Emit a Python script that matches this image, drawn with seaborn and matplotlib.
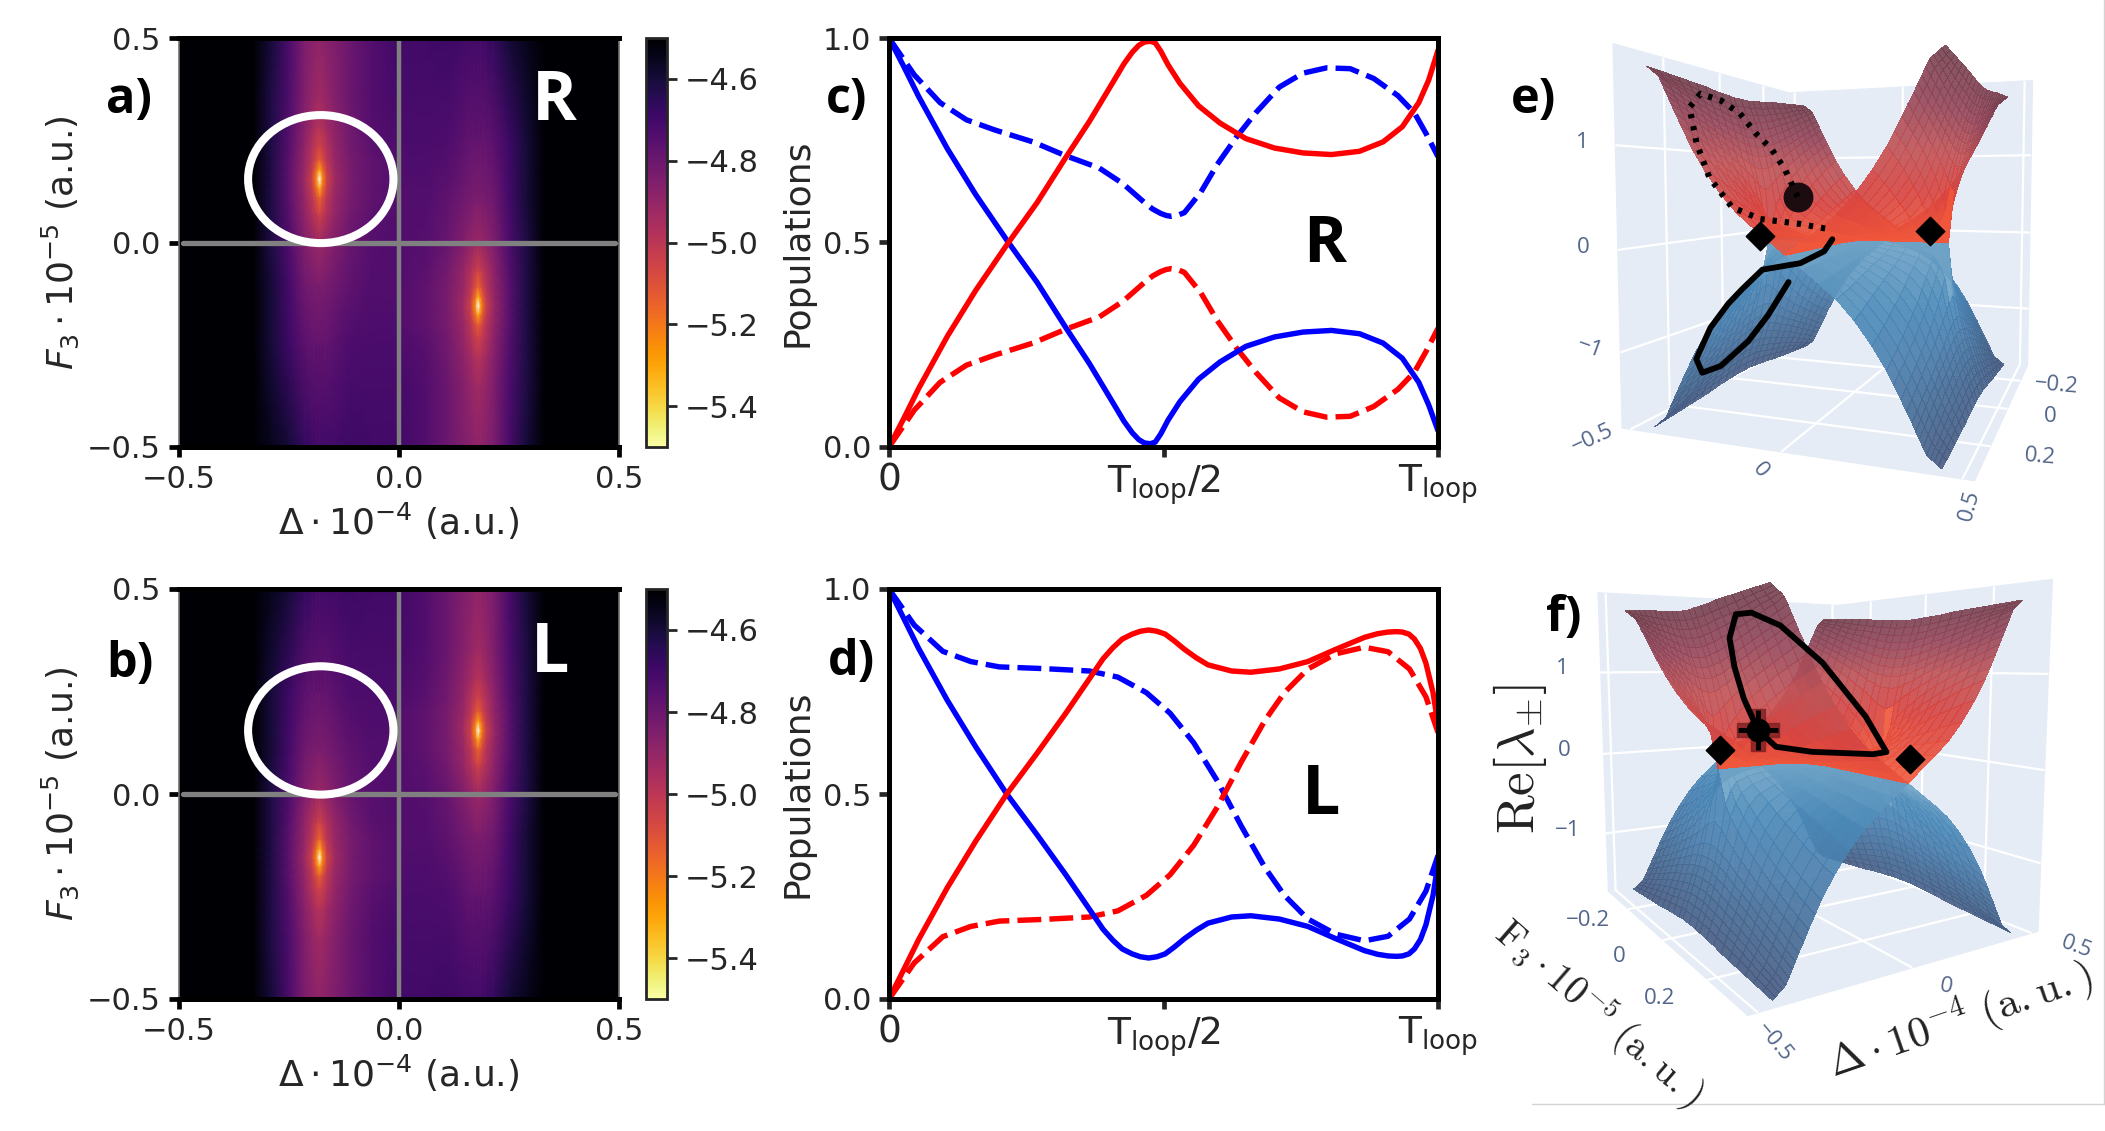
import numpy as np
import matplotlib
matplotlib.use("Agg")
import matplotlib.pyplot as plt
import seaborn as sns
from matplotlib.colors import LinearSegmentedColormap, Normalize
from matplotlib.lines import Line2D
from matplotlib.patches import Ellipse

# ==================================================
# DATA - HEATMAP (left half of panel a, log10 values)
# ==================================================

heat_x = [-0.5, -0.36, -0.33, -0.29, -0.25, -0.215, -0.197, -0.187, -0.18, -0.173, -0.163, -0.145, -0.11, -0.06, 0.0]
heat_y = [0.5, 0.35, 0.28, 0.23, 0.2, 0.175, 0.155, 0.135, 0.11, 0.07, 0.0, -0.1, -0.25, -0.5]
heat_z = [
    [-4.2, -4.42, -4.5, -4.6, -4.72, -4.84, -4.87, -4.88, -4.88, -4.88, -4.87, -4.85, -4.8, -4.74, -4.7],
    [-4.2, -4.42, -4.5, -4.62, -4.73, -4.85, -4.9, -4.92, -4.93, -4.92, -4.9, -4.86, -4.8, -4.74, -4.71],
    [-4.2, -4.42, -4.5, -4.62, -4.74, -4.87, -4.93, -4.97, -4.98, -4.97, -4.93, -4.88, -4.81, -4.75, -4.72],
    [-4.2, -4.42, -4.5, -4.62, -4.75, -4.89, -4.98, -5.03, -5.06, -5.03, -4.98, -4.9, -4.82, -4.76, -4.73],
    [-4.2, -4.42, -4.5, -4.62, -4.76, -4.9, -5.0, -5.08, -5.14, -5.08, -5.0, -4.91, -4.83, -4.77, -4.74],
    [-4.2, -4.42, -4.5, -4.62, -4.76, -4.91, -5.03, -5.18, -5.32, -5.18, -5.03, -4.92, -4.83, -4.77, -4.74],
    [-4.2, -4.42, -4.5, -4.62, -4.76, -4.92, -5.05, -5.25, -5.7, -5.25, -5.05, -4.93, -4.83, -4.77, -4.74],
    [-4.2, -4.42, -4.5, -4.62, -4.76, -4.91, -5.03, -5.18, -5.34, -5.18, -5.03, -4.92, -4.83, -4.77, -4.74],
    [-4.2, -4.42, -4.5, -4.62, -4.76, -4.9, -5.0, -5.09, -5.16, -5.09, -5.0, -4.91, -4.83, -4.77, -4.74],
    [-4.2, -4.42, -4.5, -4.62, -4.75, -4.89, -4.97, -5.02, -5.06, -5.02, -4.97, -4.9, -4.82, -4.76, -4.74],
    [-4.2, -4.42, -4.5, -4.62, -4.73, -4.85, -4.89, -4.91, -4.92, -4.91, -4.89, -4.85, -4.79, -4.75, -4.74],
    [-4.2, -4.42, -4.5, -4.6, -4.71, -4.81, -4.83, -4.84, -4.84, -4.84, -4.83, -4.81, -4.77, -4.74, -4.74],
    [-4.2, -4.42, -4.5, -4.6, -4.69, -4.76, -4.78, -4.78, -4.78, -4.78, -4.78, -4.76, -4.73, -4.72, -4.72],
    [-4.2, -4.4, -4.48, -4.55, -4.6, -4.67, -4.69, -4.7, -4.7, -4.7, -4.7, -4.7, -4.69, -4.7, -4.7],
]
cbar_ticks = [-4.6, -4.8, -5.0, -5.2, -5.4]
heat_ticks = [-0.5, 0.0, 0.5]

# ==================================================
# DATA - POPULATIONS
# ==================================================

c_t_solid = [0, .027, .054, .106, .158, .216, .27, .322, .365, .408, .428, .443, .455, .465, .476, .485, .495, .508, .53, .564, .603, .65, .702, .754, .806, .857, .90, .935, .965, .983, 1.0]
c_red_solid = [0, .07, .143, .27, .383, .497, .598, .708, .796, .892, .937, .965, .982, .99, .992, .988, .968, .935, .889, .834, .792, .754, .731, .719, .715, .723, .746, .783, .842, .897, .97]
c_blue_solid = [1, .93, .857, .73, .617, .503, .402, .292, .204, .108, .063, .035, .018, .01, .008, .012, .032, .065, .111, .166, .208, .246, .269, .281, .285, .277, .254, .217, .158, .103, .04]

c_t_dash = [0, .046, .093, .141, .193, .262, .322, .383, .426, .465, .48, .495, .505, .514, .525, .538, .568, .598, .633, .668, .711, .754, .797, .84, .883, .927, .957, .978, 1.0]
c_blue_dash = [1, .91, .842, .80, .775, .746, .712, .682, .644, .598, .582, .571, .566, .564, .566, .573, .623, .691, .758, .817, .88, .914, .927, .925, .901, .859, .817, .767, .71]
c_red_dash = [0, .09, .158, .20, .225, .254, .288, .318, .356, .402, .418, .429, .434, .436, .434, .427, .377, .309, .242, .183, .12, .086, .073, .075, .099, .141, .183, .233, .29]

d_t_solid = [0, .027, .054, .106, .158, .214, .27, .322, .365, .39, .408, .425, .443, .458, .473, .488, .503, .52, .538, .56, .581, .624, .659, .711, .763, .814, .866, .89, .909, .925, .935, .947, .957, .968, .978, .991, 1.0]
d_red_solid = [0, .072, .145, .271, .385, .499, .60, .697, .781, .83, .857, .878, .89, .897, .90, .897, .89, .873, .853, .832, .815, .80, .797, .805, .823, .853, .882, .891, .895, .896, .895, .89, .878, .855, .819, .747, .67]
d_blue_solid = [1, .928, .855, .729, .615, .501, .40, .303, .219, .17, .143, .122, .11, .103, .10, .103, .11, .127, .147, .168, .185, .20, .203, .195, .177, .147, .118, .109, .105, .104, .105, .11, .122, .145, .181, .253, .33]

d_t_dash = [0, .046, .098, .149, .201, .279, .365, .417, .469, .512, .555, .598, .642, .685, .72, .763, .814, .866, .909, .948, .978, 1.0]
d_blue_dash = [1, .912, .848, .823, .81, .806, .80, .785, .747, .697, .625, .532, .421, .32, .253, .195, .158, .142, .153, .195, .263, .35]
d_red_dash = [0, .088, .152, .177, .19, .194, .20, .215, .253, .303, .375, .468, .579, .68, .747, .805, .842, .858, .847, .805, .737, .65]

pop_ticks = [0.0, 0.5, 1.0]
time_ticks = [0.0, 0.5, 1.0]
time_labels = ["0", "T$_{\\mathrm{loop}}$/2", "T$_{\\mathrm{loop}}$"]

# ==================================================
# DATA - 3D SURFACE (one quadrant of the upper sheet)
# ==================================================

surf_x = [0, .05, .1, .15, .2, .25, .29, .31, .33, .345, .36, .37, .38, .39, .4, .41, .42, .43, .44]
surf_y = [0, .03, .05, .08, .11, .14, .17, .2, .23, .26, .29, .32]
surf_z = [
    [0, 0, 0, 0, 0, 0, 0, 0, 0, .56, .81, .95, 1.06, 1.17, 1.27, 1.36, 1.45, 1.54, 1.63],
    [0, .01, .02, .04, .05, .08, .13, .21, .36, .62, .82, .96, 1.07, 1.17, 1.27, 1.36, 1.45, 1.54, 1.63],
    [0, .02, .04, .07, .10, .15, .23, .33, .47, .69, .86, .98, 1.09, 1.19, 1.29, 1.38, 1.46, 1.55, 1.64],
    [0, .03, .06, .10, .15, .22, .33, .45, .59, .77, .91, 1.02, 1.12, 1.22, 1.31, 1.40, 1.48, 1.56, 1.65],
    [0, .04, .08, .14, .20, .29, .43, .55, .70, .85, .98, 1.08, 1.17, 1.26, 1.35, 1.43, 1.51, 1.58, 1.66],
    [0, .05, .11, .17, .25, .37, .53, .65, .79, .92, 1.04, 1.13, 1.21, 1.30, 1.38, 1.46, 1.53, 1.60, 1.68],
    [0, .06, .13, .21, .30, .44, .61, .73, .87, .99, 1.10, 1.18, 1.26, 1.34, 1.42, 1.49, 1.55, 1.62, 1.69],
    [0, .07, .15, .24, .35, .51, .69, .81, .94, 1.05, 1.16, 1.24, 1.31, 1.39, 1.46, 1.52, 1.58, 1.64, 1.70],
    [0, .08, .17, .28, .40, .58, .76, .88, 1.01, 1.11, 1.22, 1.29, 1.36, 1.44, 1.50, 1.56, 1.61, 1.66, 1.71],
    [0, .10, .20, .31, .45, .64, .83, .95, 1.07, 1.17, 1.27, 1.34, 1.41, 1.48, 1.55, 1.60, 1.64, 1.68, 1.72],
    [0, .11, .22, .34, .50, .70, .89, 1.01, 1.13, 1.23, 1.33, 1.40, 1.46, 1.53, 1.59, 1.63, 1.66, 1.70, 1.73],
    [0, .12, .24, .37, .54, .75, .95, 1.07, 1.19, 1.29, 1.38, 1.45, 1.51, 1.58, 1.64, 1.67, 1.69, 1.72, 1.74],
]
e_ep_x = [-0.392, 0.132]
e_ep_y = [-0.024, -0.32]
f_ep_x = [-0.108, 0.34]
f_ep_y = [-0.268, 0.088]
ep_z = [0.0, 0.0]

e_top_x = [-.30, -.348, -.376, -.396, -.42, -.428, -.424, -.38, -.312, -.236, -.164, -.156, -.252, -.136]
e_top_y = [-.104, -.096, -.064, -.016, .028, .096, .172, .248, .288, .32, .32, .232, -.052, -.072]
e_top_z = [.47, .82, 1.06, 1.23, 1.45, 1.56, 1.58, 1.39, 1.02, .69, .42, .29, .15, .08]

e_bot_x = [-.084, .02, -.284, -.292, -.136, -.18, -.24, -.316, -.376, -.40, -.396, -.372, -.328]
e_bot_y = [0, .188, -.096, .076, .32, .32, .32, .296, .224, .136, .028, -.036, -.088]
e_bot_z = [0, -.03, -.36, -.33, -.33, -.47, -.71, -1.06, -1.32, -1.38, -1.23, -.98, -.60]

f_loop_x = [.092, -.336, -.368, -.396, -.416, -.408, -.376, -.288, -.15, -.078, -.124, -.168, -.232, .092]
f_loop_y = [-.304, .116, .12, .136, .184, .228, .284, .32, .32, .32, .32, .18, .12, -.304]
f_loop_z = [.21, .77, 1.07, 1.34, 1.54, 1.54, 1.42, 1.11, .64, .31, .30, .25, .28, .21]

# ==================================================
# STYLE
# ==================================================

W, H = 2105, 1131
sns.set_style("ticks")
plt.rcParams["font.family"] = ["DejaVu Sans"]
plt.rcParams["mathtext.fontset"] = "dejavusans"
plt.rcParams["grid.color"] = "white"
plt.rcParams["grid.linewidth"] = 1.6
FS = 22
LABEL_FS = 26

fig = plt.figure(figsize=(W / 100, H / 100), dpi=100)
fig.patch.set_facecolor("white")


def axes_px(x0, x1, y0, y1, **kw):
    return fig.add_axes([x0 / W, 1 - y1 / H, (x1 - x0) / W, (y1 - y0) / H], **kw)


def text_px(x, y, s, **kw):
    kw.setdefault("ha", "center")
    kw.setdefault("va", "center")
    kw.setdefault("zorder", 20)
    return fig.text(x / W, 1 - y / H, s, **kw)


# ==================================================
# PANELS A, B - HEATMAPS
# ==================================================

cmap = plt.get_cmap("inferno_r").copy()
cmap.set_under("white")
norm = Normalize(vmin=-5.5, vmax=-4.5)
heat_x = np.array(heat_x)
heat_y = np.array(heat_y)
heat_z = np.array(heat_z)

for y0, y1, flip in [(38, 447, 1), (589, 999, -1)]:
    ax = axes_px(178.5, 619, y0, y1)
    ax.pcolormesh(heat_x, flip * heat_y, heat_z, shading="gouraud", cmap=cmap, norm=norm)
    im = ax.pcolormesh(-heat_x, -flip * heat_y, heat_z, shading="gouraud", cmap=cmap, norm=norm)
    ax.set_xlim(-0.5, 0.5)
    ax.set_ylim(-0.5, 0.5)
    ax.axvline(0, color="#808080", lw=3.2)
    ax.plot([-0.49, 0.49], [0, 0], color="#808080", lw=3.8)
    ax.add_patch(Ellipse((-0.177, 0.155), 0.33, 0.313, fill=False, ec="white", lw=5.8, zorder=5))
    ax.set_xticks(heat_ticks)
    ax.set_yticks(heat_ticks)
    ax.tick_params(labelsize=FS, length=7, width=3.4, pad=6, color="black")
    ax.set_xlabel("$\\Delta \\cdot 10^{-4}$ (a.u.)", fontsize=LABEL_FS, labelpad=5)
    ax.set_ylabel("$F_3 \\cdot 10^{-5}$ (a.u.)", fontsize=LABEL_FS, labelpad=4)
    for side in ["top", "bottom"]:
        ax.spines[side].set_linewidth(3.6)
        ax.spines[side].set_color("black")
    for side in ["left", "right"]:
        ax.spines[side].set_linewidth(1.2)
        ax.spines[side].set_color("#707070")

    cax = axes_px(646, 667, y0, y1)
    cb = fig.colorbar(im, cax=cax)
    cb.set_ticks(cbar_ticks)
    cb.ax.tick_params(labelsize=FS, length=7, width=2, pad=6)
    cb.outline.set_linewidth(2)

# ==================================================
# PANELS C, D - POPULATIONS
# ==================================================

DASH = (0, (4.4, 1.5))
LW = 3.9

pop_panels = [
    (38, 447, c_t_solid, c_red_solid, c_blue_solid, c_t_dash, c_red_dash, c_blue_dash),
    (589, 999, d_t_solid, d_red_solid, d_blue_solid, d_t_dash, d_red_dash, d_blue_dash),
]
for y0, y1, ts, red_s, blue_s, td, red_d, blue_d in pop_panels:
    ax = axes_px(889, 1438, y0, y1)
    sns.lineplot(x=td, y=blue_d, color="#0000ff", lw=LW, linestyle=DASH, errorbar=None, ax=ax)
    sns.lineplot(x=td, y=red_d, color="#ff0000", lw=LW, linestyle=DASH, errorbar=None, ax=ax)
    sns.lineplot(x=ts, y=blue_s, color="#0000ff", lw=LW, errorbar=None, ax=ax)
    sns.lineplot(x=ts, y=red_s, color="#ff0000", lw=LW, errorbar=None, ax=ax)
    ax.set_xlim(0, 1)
    ax.set_ylim(0, 1)
    ax.set_xticks(time_ticks)
    ax.set_xticklabels(time_labels)
    ax.set_yticks(pop_ticks)
    ax.tick_params(labelsize=FS, length=7, width=3.4, pad=6)
    ax.tick_params(axis="x", labelsize=27, pad=4)
    ax.set_ylabel("Populations", fontsize=LABEL_FS, labelpad=6)
    for spine in ax.spines.values():
        spine.set_visible(True)
        spine.set_linewidth(3.6)
        spine.set_color("black")

# ==================================================
# PANELS E, F - 3D SHEETS
# ==================================================

top_cmap = LinearSegmentedColormap.from_list("top", ["#f2573a", "#d8433f", "#c05356", "#94475a", "#72404f"])
bot_cmap = LinearSegmentedColormap.from_list("bot", ["#6fa3c6", "#4a89b8", "#4a7dac", "#466a93", "#475a80"])
surf_x = np.array(surf_x)
surf_y = np.array(surf_y)
surf_z = np.array(surf_z)
full_x = np.concatenate([-surf_x[:0:-1], surf_x])
full_y = np.concatenate([-surf_y[:0:-1], surf_y])
full_z = np.hstack([surf_z[:, :0:-1], surf_z])
full_z = np.vstack([full_z[:0:-1, :], full_z])
grid_x, grid_y = np.meshgrid(full_x, full_y)


def sheet_3d(x0, y0, elev, azim, focal, aspect, zoom):
    ax = axes_px(x0, x0 + 600, y0, y0 + 600, projection="3d", computed_zorder=False)
    ax.patch.set_alpha(0)
    ax.set_proj_type("persp", focal_length=focal)
    ax.view_init(elev=elev, azim=azim)
    ax.set_box_aspect(aspect, zoom=zoom)
    for sign, cm, order in [(-1, bot_cmap, 2), (1, top_cmap, 3)]:
        colours = cm(np.clip(np.abs(full_z) / 1.74, 0, 1))
        colours[..., 3] = 0.9
        ax.plot_surface(grid_x, grid_y, sign * full_z, facecolors=colours, shade=False,
                        rstride=1, cstride=1, linewidth=0, antialiased=False, zorder=order)
    ax.set_xlim(-0.53, 0.53)
    ax.set_ylim(0.34, -0.34)
    ax.set_zlim(-1.75, 1.95)
    ax.set_xticks([-0.5, 0, 0.5])
    ax.set_yticks([-0.2, 0, 0.2])
    ax.set_zticks([-1, 0, 1])
    ax.set_xticklabels([])
    ax.set_yticklabels([])
    ax.set_zticklabels([])
    for axis in [ax.xaxis, ax.yaxis, ax.zaxis]:
        axis.set_pane_color("#e5ecf6")
        axis.pane.set_edgecolor("#e5ecf6")
        axis.line.set_color((1, 1, 1, 0))
        axis._axinfo["tick"]["inward_factor"] = 0
        axis._axinfo["tick"]["outward_factor"] = 0
    return ax


ax_e = sheet_3d(1546.7, -60.8, 3.96, -69.7, 0.2127, (1, 1.095, 1.071), 0.905)
ax_e.scatter(e_ep_x, e_ep_y, ep_z, marker="D", s=210, color="black", depthshade=False, zorder=3.5)
ax_e.plot(e_top_x, e_top_y, e_top_z, color="black", lw=4.4, linestyle=(0, (0.7, 1.3)), zorder=6)
ax_e.plot(e_bot_x, e_bot_y, e_bot_z, color="black", lw=4.2, zorder=6)
ax_e.scatter([e_top_x[0]], [e_top_y[0]], [e_top_z[0]], marker="o", s=420, color="#1c0c10", depthshade=False, zorder=4)

ax_f = sheet_3d(1497.4, 460.8, 7.02, -122.08, 0.2207, (1, 1.084, 1.054), 0.905)
ax_f.scatter(f_ep_x, f_ep_y, ep_z, marker="D", s=210, color="black", depthshade=False, zorder=3.5)
ax_f.plot(f_loop_x, f_loop_y, f_loop_z, color="black", lw=4.2, zorder=6)
ax_f.scatter([f_loop_x[0]], [f_loop_y[0]], [f_loop_z[0]], marker="P", s=900, color="#7e1f22", alpha=0.8, depthshade=False, zorder=5)
ax_f.scatter([f_loop_x[0]], [f_loop_y[0]], [f_loop_z[0]], marker="o", s=260, color="black", depthshade=False, zorder=6)
ax_f.scatter([f_loop_x[0]], [f_loop_y[0]], [f_loop_z[0]], marker="+", s=800, color="black", lw=3.5, depthshade=False, zorder=6)

# 3D tick labels
TICK3D = dict(color="#52658a", fontsize=16, family="Open Sans")
for x, y, s, rot in [(1582, 142, "1", 0), (1583, 247, "0", 0), (1590, 348, "\u22121", -20),
                     (1592, 439, "\u22120.5", 25), (1760, 470, "0", -50), (1970, 505, "0.5", 75),
                     (2056, 385, "\u22120.2", -5), (2050, 416, "0", 0), (2040, 457, "0.2", -5),
                     (1562, 668, "1", 0), (1564, 750, "0", 0), (1568, 830, "\u22121", 0),
                     (1774, 1042, "\u22120.5", -50), (1946, 987, "0", -10), (2076, 947, "0.5", -20),
                     (1588, 920, "\u22120.2", 0), (1619, 956, "0", 0), (1660, 998, "0.2", 0)]:
    text_px(x, y, s, rotation=rot, rotation_mode="anchor", **TICK3D)

# 3D axis titles
CM = dict(math_fontfamily="cm", color="#222222")
text_px(1520, 759, "$\\mathrm{Re}[\\lambda_{\\pm}]$", fontsize=38, rotation=90, **CM)
text_px(1960, 1020, "$\\Delta \\cdot 10^{-4}\\ (\\mathrm{a.u.})$", fontsize=31, rotation=19, rotation_mode="anchor", **CM)
text_px(1599, 1013, "$\\mathrm{F}_3 \\cdot 10^{-5}\\ (\\mathrm{a.u.})$", fontsize=28, rotation=-41, rotation_mode="anchor", **CM)

# ==================================================
# PANEL LETTERS AND CROP LINES
# ==================================================

BOLD = dict(family="Open Sans", fontweight="bold")
for x, y, s in [(129, 100, "a)"), (130, 665, "b)"), (847, 100, "c)"), (851, 662, "d)"),
                (1534, 100, "e)"), (1564, 618, "f)")]:
    text_px(x, y, s, fontsize=35, color="black", **BOLD)
text_px(554, 102, "R", fontsize=49, color="white", **BOLD)
text_px(550, 654, "L", fontsize=49, color="white", **BOLD)
text_px(1325, 246, "R", fontsize=47, color="black", **BOLD)
text_px(1321, 796, "L", fontsize=49, color="black", **BOLD)

fig.add_artist(Line2D([1532 / W, 1], [1 - 1104 / H, 1 - 1104 / H], color="#d4d4d4", lw=1))
fig.add_artist(Line2D([2104 / W, 2104 / W], [1 - 1104 / H, 1], color="#d4d4d4", lw=1))

plt.savefig("out.png", dpi=100)
